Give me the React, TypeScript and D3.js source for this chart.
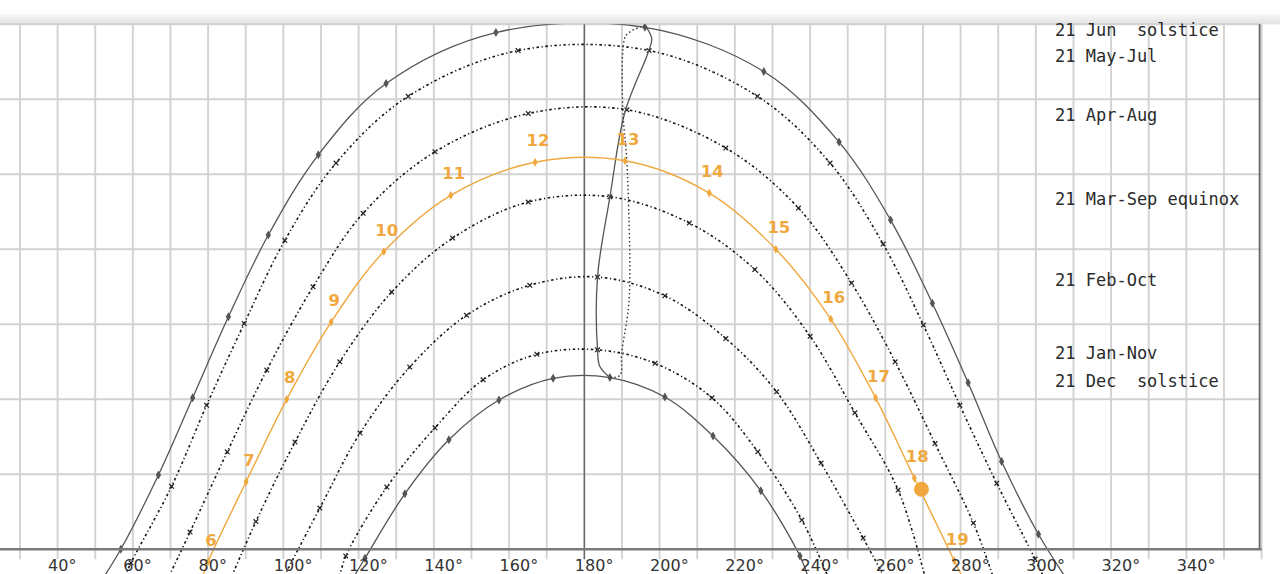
import React from "react";
import * as d3 from "d3";

// ---------- axis ticks ----------
const azTickLabels = [20, 40, 60, 80, 100, 120, 140, 160, 180, 200, 220, 240, 260, 280, 300, 320, 340];
const azGrid = d3.range(0, 361, 10);
const altGrid = [10, 20, 30, 40, 50, 60, 70];

// ---------- sun paths (azimuth °, altitude °) at clock hours ----------
const junAz = [56.8, 66.8, 75.9, 85.4, 96.0, 109.3, 127.3, 156.5, 196.1, 227.7, 247.7, 261.4, 272.5, 282.0, 290.9, 300.7];
const junAlt = [0.0, 9.9, 20.2, 31.0, 41.9, 52.6, 62.1, 68.9, 69.6, 63.7, 54.3, 43.9, 32.8, 22.2, 11.7, 2.0];
const junEdge = [[52.4, -3.6], [307.7, -3.6]];

const mayAz = [59.5, 70.3, 79.6, 89.6, 100.4, 114.0, 133.2, 162.4, 197.2, 226.0, 245.3, 259.4, 270.1, 279.8, 289.6, 299.8];
const mayAlt = [-1.8, 8.4, 19.2, 30.1, 41.2, 51.5, 60.4, 66.5, 66.5, 60.4, 51.5, 40.7, 29.9, 19.2, 8.8, -1.3];
const mayEdge = [[57.9, -3.6], [302.0, -3.6]];

const aprAz = [75.2, 85.1, 95.6, 107.9, 121.2, 140.3, 165.1, 191.3, 217.6, 236.9, 251.0, 262.6, 273.2, 283.4];
const aprAlt = [2.3, 13.0, 23.9, 35.0, 44.8, 53.0, 58.1, 58.6, 53.5, 45.5, 35.5, 25.0, 14.1, 3.5];
const aprEdge = [[69.6, -3.6], [288.6, -3.6]];

const todayHours = [6, 7, 8, 9, 10, 11, 12, 13, 14, 15, 16, 17, 18, 19];
const todayAz = [80.0, 90.1, 100.9, 112.7, 126.7, 144.5, 166.9, 190.8, 213.2, 230.9, 245.5, 257.4, 267.7, 278.3];
const todayAlt = [-1.65, 9.0, 20.0, 30.3, 39.7, 47.2, 51.6, 51.8, 47.5, 40.0, 30.7, 20.2, 9.5, -1.5];
const todayEdge = [[78.6, -3.6], [280.4, -3.6]];
const sunNow = [269.6, 8.0];

const marAz = [92.7, 103.1, 115.0, 128.8, 145.0, 165.1, 186.8, 207.9, 225.3, 240.0, 251.9, 263.4];
const marAlt = [3.7, 14.3, 25.0, 34.3, 41.5, 46.3, 47.0, 43.5, 37.3, 28.4, 18.2, 7.9];
const marEdge = [[86.3, -3.6], [270.5, -3.6]];

const febAz = [109.7, 120.4, 133.6, 148.7, 165.5, 183.5, 201.4, 217.6, 231.1, 242.9, 254.1];
const febAlt = [5.5, 15.5, 24.3, 31.2, 35.2, 36.3, 33.8, 28.1, 21.0, 11.5, 1.5];
const febEdge = [[100.2, -3.6], [259.6, -3.6]];

const janAz = [116.6, 127.5, 140.3, 153.1, 167.4, 183.5, 198.8, 213.9, 226.1, 237.8];
const janAlt = [-0.9, 8.3, 16.2, 22.6, 26.0, 26.6, 24.8, 20.2, 13.0, 3.9];
const janEdge = [[115.0, -3.6], [244.7, -3.6]];

const decAz = [121.7, 132.3, 144.0, 157.3, 171.7, 186.8, 201.4, 214.2, 226.9, 237.3];
const decAlt = [-1.2, 7.4, 14.6, 19.9, 22.8, 22.9, 20.3, 15.1, 7.8, -0.9];
const decEdge = [[118.8, -3.6], [239.4, -3.6]];

// ---------- analemma at 13h ----------
const anaSolidAz = [196.1, 197.9, 197.0, 190.8, 186.8, 183.5, 183.5, 184.1, 186.8];
const anaSolidAlt = [69.9, 68.1, 66.3, 58.3, 47.0, 36.3, 26.6, 24.4, 22.9];
const anaDotAz = [196.1, 191.2, 190.3, 190.3, 191.2, 191.7, 192.1, 191.7, 189.9, 189.5, 186.8];
const anaDotAlt = [69.9, 68.6, 66.8, 57.9, 52.6, 46.7, 36.6, 32.1, 26.1, 23.2, 22.9];

// ---------- legend ----------
const legendLabels = ["21 Jun  solstice", "21 May-Jul", "21 Apr-Aug", "21 Mar-Sep equinox", "21 Feb-Oct", "21 Jan-Nov", "21 Dec  solstice"];
const legendAlt = [68.4, 65.0, 57.1, 45.9, 35.1, 25.4, 21.7];

const ORANGE = "#f0a83e";
const SOLID = "#555555";
const DOTTED = "#161616";

type P = [number, number];
const zip = (a: number[], b: number[]): P[] => a.map((v, i) => [v, b[i]] as P);

export default function App() {
  const W = 1280, H = 574;
  const x = d3.scaleLinear().domain([0, 360]).range([-92.9, 1261.6]);
  const y = d3.scaleLinear().domain([0, 70]).range([549.3, 24.3]);
  const line = d3
    .line<P>()
    .x((d) => x(d[0]))
    .y((d) => y(d[1]))
    .curve(d3.curveCatmullRom.alpha(0.5));

  const curves = [
    { pts: zip(junAz, junAlt), edge: junEdge, kind: "solid" },
    { pts: zip(mayAz, mayAlt), edge: mayEdge, kind: "dot" },
    { pts: zip(aprAz, aprAlt), edge: aprEdge, kind: "dot" },
    { pts: zip(marAz, marAlt), edge: marEdge, kind: "dot" },
    { pts: zip(febAz, febAlt), edge: febEdge, kind: "dot" },
    { pts: zip(janAz, janAlt), edge: janEdge, kind: "dot" },
    { pts: zip(decAz, decAlt), edge: decEdge, kind: "solid" },
  ];
  const today = zip(todayAz, todayAlt);
  const todayPath = line([todayEdge[0] as P, ...today, todayEdge[1] as P]) || "";

  const diamond = d3.symbol().type(d3.symbolDiamond).size(24)() || "";
  const smallDiamond = d3.symbol().type(d3.symbolDiamond).size(22)() || "";
  const cross = d3.symbol().type(d3.symbolX).size(16)() || "";

  return (
    <svg
      width={W}
      height={H}
      style={{ position: "absolute", left: 0, top: 0, background: "#fff" }}
    >
      <defs>
        <linearGradient id="band" x1="0" y1="0" x2="0" y2="1">
          <stop offset="0" stopColor="#f7f7f7" />
          <stop offset="1" stopColor="#e2e2e2" />
        </linearGradient>
        <clipPath id="clip">
          <rect x={0} y={y(70)} width={W} height={H - y(70)} />
        </clipPath>
      </defs>
      <rect x={0} y={0} width={W} height={H} fill="#fff" />
      <rect x={0} y={14} width={W} height={y(70) - 14} fill="url(#band)" />

      {/* grid */}
      {azGrid.map((a) => (
        <line
          key={"vg" + a}
          x1={x(a)}
          x2={x(a)}
          y1={y(70)}
          y2={y(0) + 10}
          stroke="#d2d2d2"
          strokeWidth={1.9}
        />
      ))}
      {altGrid.map((a) => (
        <line
          key={"hg" + a}
          x1={x(0)}
          x2={x(360)}
          y1={y(a)}
          y2={y(a)}
          stroke="#d2d2d2"
          strokeWidth={1.9}
        />
      ))}
      <line x1={x(180)} x2={x(180)} y1={y(70)} y2={y(0) + 10} stroke="#666" strokeWidth={1.4} />
      <line x1={x(360) - 2} x2={x(360) - 2} y1={y(70)} y2={y(0)} stroke="#666" strokeWidth={1.8} />

      <g clipPath="url(#clip)">
        {/* date curves */}
        {curves.map((c, i) => (
          <path
            key={"c" + i}
            d={line([c.edge[0] as P, ...c.pts, c.edge[1] as P]) || ""}
            fill="none"
            stroke={c.kind === "solid" ? SOLID : DOTTED}
            strokeWidth={c.kind === "solid" ? 1.3 : 1.6}
            strokeDasharray={c.kind === "solid" ? undefined : "2.6,2.6,1.2,2.6"}
          />
        ))}
        {curves.map((c, i) =>
          c.pts.map((p, j) =>
            c.kind === "solid" ? (
              <path key={"m" + i + "-" + j} d={diamond} transform={`translate(${x(p[0])},${y(p[1])})`} fill={SOLID} />
            ) : (
              <path
                key={"m" + i + "-" + j}
                d={cross}
                transform={`translate(${x(p[0])},${y(p[1])})`}
                fill="none"
                stroke="#222"
                strokeWidth={1.2}
              />
            )
          )
        )}

        {/* analemma */}
        <path d={line(zip(anaSolidAz, anaSolidAlt)) || ""} fill="none" stroke={SOLID} strokeWidth={1.3} />
        <path
          d={line(zip(anaDotAz, anaDotAlt)) || ""}
          fill="none"
          stroke="#333"
          strokeWidth={1.4}
          strokeDasharray="1.5,2.5"
        />

        {/* today */}
        <path d={todayPath} fill="none" stroke={ORANGE} strokeWidth={1.4} />
        {today.map((p, j) => (
          <path key={"t" + j} d={smallDiamond} transform={`translate(${x(p[0])},${y(p[1])})`} fill={ORANGE} />
        ))}
        {today.map((p, j) => (
          <text
            key={"tl" + j}
            x={x(p[0]) + 3}
            y={y(p[1]) - 16}
            textAnchor="middle"
            fontFamily="'DejaVu Sans', Verdana, sans-serif"
            fontWeight="bold"
            fontSize={16.5}
            fill={ORANGE}
          >
            {todayHours[j]}
          </text>
        ))}
        <circle cx={x(sunNow[0])} cy={y(sunNow[1])} r={7.5} fill={ORANGE} />
      </g>

      {/* horizon axis */}
      <line x1={x(0)} x2={x(360)} y1={y(0)} y2={y(0)} stroke="#7a7a7a" strokeWidth={2.6} />
      {azTickLabels.map((t) => (
        <text
          key={"tk" + t}
          x={x(t) - 9.5}
          y={571}
          fontFamily="'DejaVu Sans', Verdana, sans-serif"
          fontSize={16}
          fill="#333"
        >
          {t}°
        </text>
      ))}

      {/* legend */}
      {legendLabels.map((l, i) => (
        <text
          key={"lg" + i}
          x={1055}
          y={y(legendAlt[i])}
          fontFamily="'DejaVu Sans Mono', monospace"
          fontSize={17}
          fill="#2a2a2a"
          style={{ whiteSpace: "pre" }}
        >
          {l}
        </text>
      ))}
    </svg>
  );
}
